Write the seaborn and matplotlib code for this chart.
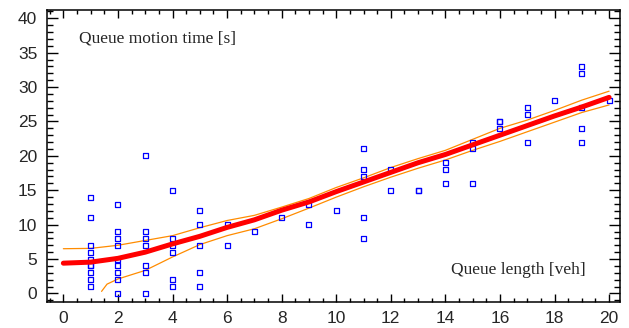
import seaborn as sns
import matplotlib.pyplot as plt
import pandas as pd
from matplotlib.ticker import MultipleLocator

# observed queue length [veh] vs queue motion time [s]
queue_len = [1, 1, 1, 1, 1, 1, 1, 1, 1, 1,
             2, 2, 2, 2, 2, 2, 2, 2, 2,
             3, 3, 3, 3, 3, 3, 3,
             4, 4, 4, 4, 4, 4,
             5, 5, 5, 5, 5,
             6, 6, 7, 8, 9, 9, 10,
             11, 11, 11, 11, 11,
             12, 12, 13, 13,
             14, 14, 14, 15, 15, 15,
             16, 16, 16, 17, 17, 17, 18,
             19, 19, 19, 19, 19, 20]
motion_time = [14, 11, 7, 6, 5, 4, 4, 3, 2, 1,
               13, 9, 8, 7, 5, 4, 3, 2, 0,
               20, 9, 8, 7, 4, 3, 0,
               15, 8, 7, 6, 2, 1,
               12, 10, 7, 3, 1,
               10, 7, 9, 11, 13, 10, 12,
               21, 18, 17, 11, 8,
               18, 15, 15, 15,
               19, 18, 16, 22, 21, 16,
               25, 25, 24, 27, 26, 22, 28,
               33, 32, 27, 24, 22, 28]

fit_x = list(range(0, 21))
fit_y = [4.4, 4.55, 5.1, 6.0, 7.2, 8.3, 9.6, 10.7, 12.1, 13.3, 14.8,
         16.2, 17.6, 19.0, 20.2, 21.6, 23.0, 24.4, 25.8, 27.1, 28.5]
upper_y = [6.5, 6.55, 7.0, 7.7, 8.4, 9.55, 10.6, 11.35, 12.55, 13.8, 15.4,
           16.8, 18.3, 19.6, 20.8, 22.4, 24.0, 25.2, 26.6, 28.1, 29.4]
lower_x = [1.4, 1.6] + list(range(2, 21))
lower_y = [0.3, 1.35, 2.1, 3.35, 5.3, 7.1, 8.4, 9.4, 10.85, 12.4, 14.0,
           15.5, 16.9, 18.2, 19.4, 20.8, 22.1, 23.5, 24.9, 26.3, 27.4]

sns.set_style("ticks")
plt.rcParams['font.family'] = ['Liberation Sans', 'DejaVu Sans']

fig = plt.figure(figsize=(6.29, 3.28), dpi=100)
ax = fig.add_axes([0.0747, 0.0802, 0.9110, 0.8893])

pts = pd.DataFrame({"len": queue_len, "time": motion_time})
sns.scatterplot(x="len", y="time", data=pts, ax=ax, marker="s", s=13,
                facecolor="none", edgecolor="#0000ff", linewidth=0.9, zorder=3)

sns.lineplot(x=fit_x, y=upper_y, ax=ax, color="#ff8c00", lw=0.9, estimator=None)
sns.lineplot(x=lower_x, y=lower_y, ax=ax, color="#ff8c00", lw=0.9, estimator=None)
sns.lineplot(x=fit_x, y=fit_y, ax=ax, color="#ff0000", lw=3.6, estimator=None, zorder=4)

ax.set_xlim(-0.6, 20.4)
ax.set_ylim(-1.2, 41.2)
ax.xaxis.set_major_locator(MultipleLocator(2))
ax.xaxis.set_minor_locator(MultipleLocator(0.5))
ax.yaxis.set_major_locator(MultipleLocator(5))
ax.yaxis.set_minor_locator(MultipleLocator(1))
ax.tick_params(axis='both', which='both', direction='in', top=True, right=True,
               labelsize=12.5, width=1, color='black')
ax.tick_params(axis='x', which='major', length=5.5, pad=7)
ax.tick_params(axis='x', which='minor', length=3)
ax.tick_params(axis='y', which='major', length=8, pad=7)
ax.tick_params(axis='y', which='minor', length=4.5)
for sp in ax.spines.values():
    sp.set_linewidth(1.1)
    sp.set_color('black')
ax.set_xlabel('')
ax.set_ylabel('')

ax.text(0.055, 0.904, "Queue motion time [s]", transform=ax.transAxes,
        family='Liberation Serif', fontsize=12.5, ha='left', va='center')
ax.text(0.940, 0.109, "Queue length [veh]", transform=ax.transAxes,
        family='Liberation Serif', fontsize=12.5, ha='right', va='center')

fig.savefig("out.png", dpi=100)
